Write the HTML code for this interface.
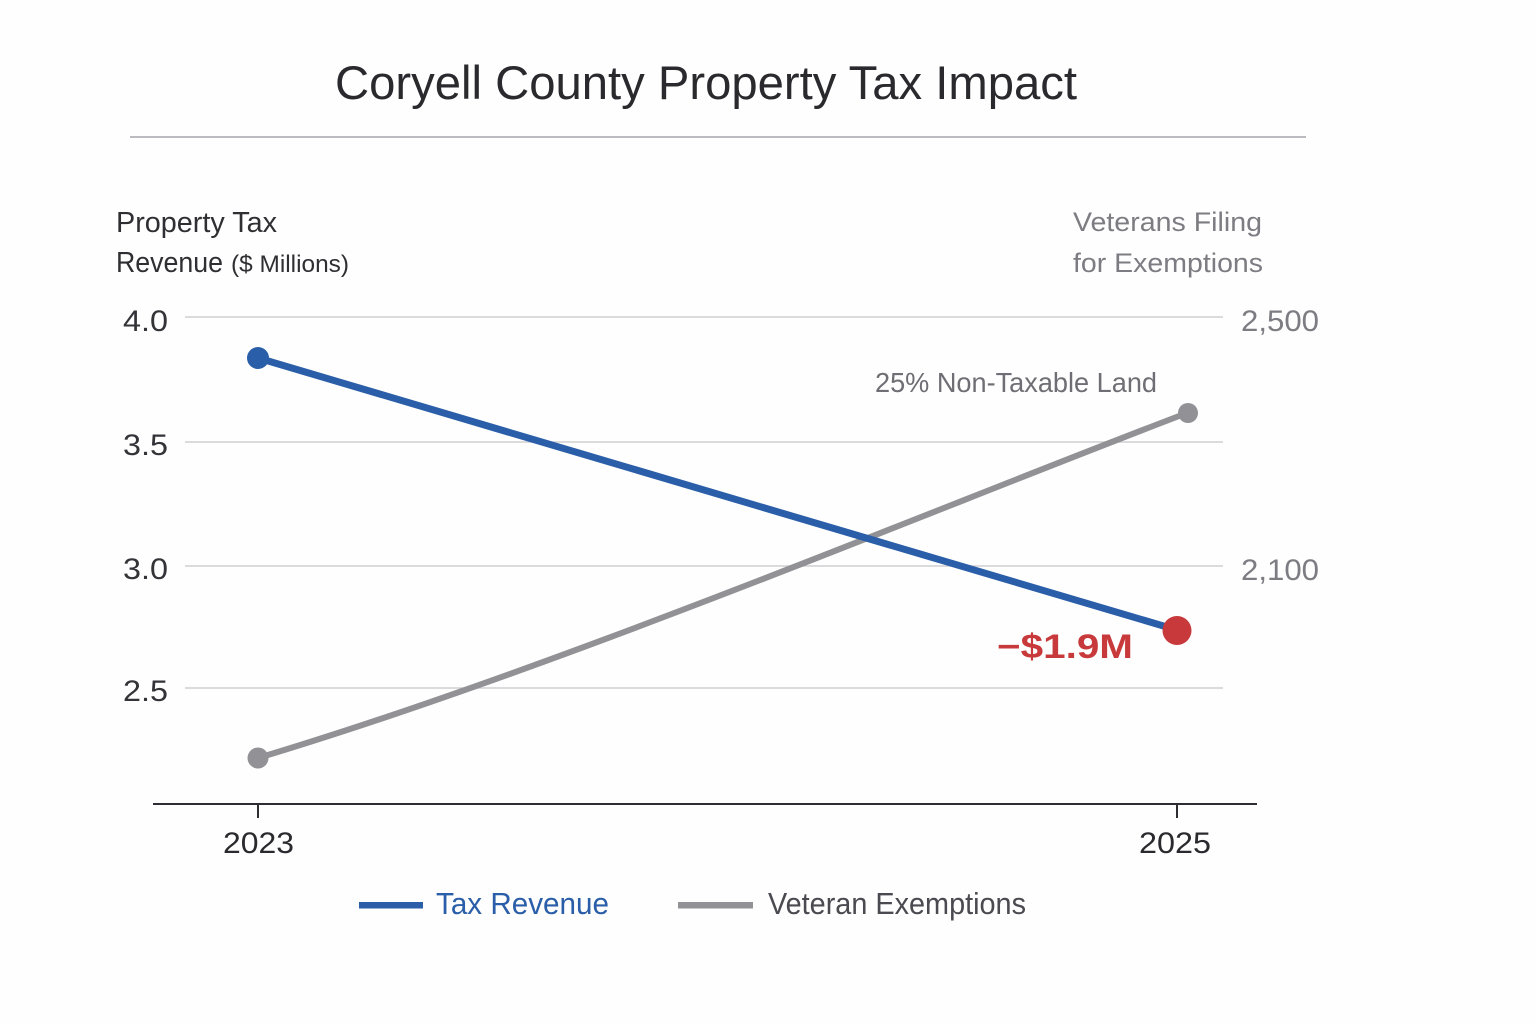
<!DOCTYPE html>
<html>
<head>
<meta charset="utf-8">
<style>
  html, body { margin: 0; padding: 0; background: #fefefe; }
  svg { display: block; }
  text { font-family: "Liberation Sans", "DejaVu Sans", sans-serif; }
</style>
</head>
<body>
<svg width="1536" height="1024" viewBox="0 0 1536 1024" xmlns="http://www.w3.org/2000/svg">
  <rect x="0" y="0" width="1536" height="1024" fill="#fefefe"/>

  <!-- Title -->
  <text x="335" y="99" font-size="47" fill="#2a2a2e" textLength="742" lengthAdjust="spacingAndGlyphs">Coryell County Property Tax Impact</text>
  <rect x="130" y="136" width="1176" height="2" fill="#bcbcc0"/>

  <!-- Left axis title -->
  <text x="116" y="232" font-size="29" fill="#2f2f33" textLength="161" lengthAdjust="spacingAndGlyphs">Property Tax</text>
  <text x="116" y="272" font-size="29" fill="#2f2f33" textLength="107" lengthAdjust="spacingAndGlyphs">Revenue</text>
  <text x="231" y="272" font-size="24" fill="#2f2f33" textLength="118" lengthAdjust="spacingAndGlyphs">($ Millions)</text>

  <!-- Right axis title -->
  <text x="1073" y="231" font-size="27" fill="#7c7c82" textLength="189" lengthAdjust="spacingAndGlyphs">Veterans Filing</text>
  <text x="1073" y="272" font-size="27" fill="#7c7c82" textLength="190" lengthAdjust="spacingAndGlyphs">for Exemptions</text>

  <!-- Gridlines -->
  <g stroke="#cfcfd4" stroke-width="1.6">
    <line x1="185" y1="317" x2="1223" y2="317"/>
    <line x1="185" y1="442" x2="1223" y2="442"/>
    <line x1="185" y1="566" x2="1223" y2="566"/>
    <line x1="185" y1="688" x2="1223" y2="688"/>
  </g>

  <!-- Left tick labels -->
  <g font-size="30" fill="#333338">
    <text x="123" y="331" textLength="45" lengthAdjust="spacingAndGlyphs">4.0</text>
    <text x="123" y="455" textLength="45" lengthAdjust="spacingAndGlyphs">3.5</text>
    <text x="123" y="579" textLength="45" lengthAdjust="spacingAndGlyphs">3.0</text>
    <text x="123" y="701" textLength="45" lengthAdjust="spacingAndGlyphs">2.5</text>
  </g>

  <!-- Right tick labels -->
  <g font-size="30" fill="#7c7c82">
    <text x="1241" y="331" textLength="78" lengthAdjust="spacingAndGlyphs">2,500</text>
    <text x="1241" y="580" textLength="78" lengthAdjust="spacingAndGlyphs">2,100</text>
  </g>

  <!-- X axis -->
  <line x1="153" y1="804" x2="1257" y2="804" stroke="#2e2e32" stroke-width="2"/>
  <line x1="258" y1="804" x2="258" y2="818" stroke="#2e2e32" stroke-width="2"/>
  <line x1="1177" y1="804" x2="1177" y2="818" stroke="#2e2e32" stroke-width="2"/>
  <text x="223" y="853" font-size="30" fill="#2a2a2e" textLength="71" lengthAdjust="spacingAndGlyphs">2023</text>
  <text x="1139" y="853" font-size="30" fill="#2a2a2e" textLength="72" lengthAdjust="spacingAndGlyphs">2025</text>

  <!-- Gray series (veterans) -->
  <path d="M258,758 C558,668 937,508 1187,413" fill="none" stroke="#929296" stroke-width="6" stroke-linecap="round"/>
  <circle cx="258" cy="758" r="10.5" fill="#929296"/>
  <circle cx="1188" cy="413" r="10" fill="#929296"/>

  <!-- Blue series (tax revenue) -->
  <line x1="258" y1="358" x2="1177" y2="630" stroke="#2a5ea8" stroke-width="7" stroke-linecap="round"/>
  <circle cx="258" cy="358" r="11" fill="#2a5ea8"/>
  <circle cx="1177" cy="630.5" r="14.5" fill="#c8393b"/>

  <!-- Annotations -->
  <text x="875" y="392" font-size="28" fill="#6e6e74" textLength="282" lengthAdjust="spacingAndGlyphs">25% Non-Taxable Land</text>
  <text x="997" y="658" font-size="34" fill="#c8393b" font-weight="bold" textLength="136" lengthAdjust="spacingAndGlyphs">−$1.9M</text>

  <!-- Legend -->
  <rect x="359" y="902" width="64" height="6.5" fill="#2a5ea8"/>
  <text x="436" y="914" font-size="31" fill="#2a5ea8" textLength="173" lengthAdjust="spacingAndGlyphs">Tax Revenue</text>
  <rect x="678" y="902" width="75" height="6.5" fill="#929296"/>
  <text x="768" y="914" font-size="31" fill="#4a4a50" textLength="258" lengthAdjust="spacingAndGlyphs">Veteran Exemptions</text>
</svg>
</body>
</html>
